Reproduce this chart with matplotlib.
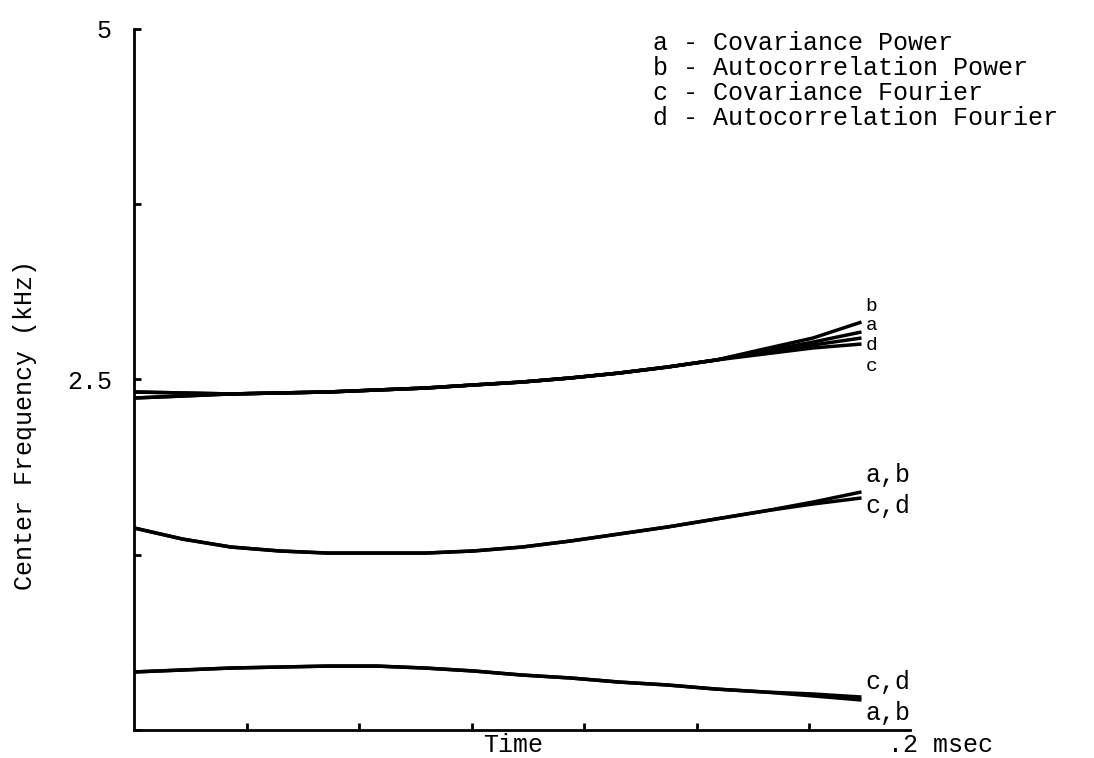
import numpy as np
import matplotlib
matplotlib.use("Agg")
import matplotlib.pyplot as plt

plt.rcParams['font.family'] = ['Liberation Mono', 'DejaVu Sans Mono']

# time in msec
t = [0.0, 0.0125, 0.025, 0.0375, 0.05, 0.0625, 0.075, 0.0875, 0.1,
     0.1125, 0.125, 0.1375, 0.15, 0.1625, 0.175, 0.1875]

# upper group (kHz)
up_a = [2.411, 2.404, 2.397, 2.404, 2.411, 2.425, 2.439, 2.461, 2.482,
        2.511, 2.546, 2.589, 2.639, 2.703, 2.767, 2.839]
up_b = [2.411, 2.404, 2.397, 2.404, 2.411, 2.425, 2.439, 2.461, 2.482,
        2.511, 2.546, 2.589, 2.639, 2.718, 2.796, 2.910]
up_c = [2.368, 2.382, 2.397, 2.404, 2.411, 2.425, 2.439, 2.461, 2.482,
        2.511, 2.546, 2.589, 2.639, 2.682, 2.725, 2.753]
up_d = [2.368, 2.382, 2.397, 2.404, 2.411, 2.425, 2.439, 2.461, 2.482,
        2.511, 2.546, 2.589, 2.639, 2.696, 2.746, 2.796]

# middle group
mid_ab = [1.441, 1.362, 1.305, 1.277, 1.262, 1.262, 1.262, 1.277, 1.305,
          1.348, 1.398, 1.448, 1.505, 1.562, 1.626, 1.698]
mid_cd = [1.441, 1.362, 1.305, 1.277, 1.262, 1.262, 1.262, 1.277, 1.305,
          1.348, 1.398, 1.448, 1.505, 1.562, 1.612, 1.655]

# lower group
low_ab = [0.414, 0.428, 0.442, 0.449, 0.456, 0.456, 0.442, 0.421, 0.392,
          0.371, 0.342, 0.321, 0.292, 0.271, 0.243, 0.214]
low_cd = [0.414, 0.428, 0.442, 0.449, 0.456, 0.456, 0.442, 0.421, 0.392,
          0.371, 0.342, 0.321, 0.292, 0.271, 0.257, 0.235]

yticks = [0, 1.25, 2.5, 3.75, 5]
ytick_labels = ['', '', '2.5', '', '5']
xticks = [0.029, 0.058, 0.087, 0.116, 0.145, 0.174]

legend_lines = ['a - Covariance Power',
                'b - Autocorrelation Power',
                'c - Covariance Fourier',
                'd - Autocorrelation Fourier']

W, H = 1094, 758
fig = plt.figure(figsize=(W / 100, H / 100), dpi=100)
ax = fig.add_axes([134 / W, 1 - 730 / H, (910 - 134) / W, (730 - 29) / H])

fs = 18
lw = 2.5
for s in [up_a, up_b, up_c, up_d, mid_ab, mid_cd, low_ab, low_cd]:
    ax.plot(t, s, color='black', lw=lw, solid_capstyle='butt')

ax.set_xlim(0, 0.2)
ax.set_ylim(0, 5)
for side in ['top', 'right']:
    ax.spines[side].set_visible(False)
for side in ['left', 'bottom']:
    ax.spines[side].set_linewidth(2)

ax.set_yticks(yticks)
ax.set_yticklabels(ytick_labels, fontsize=fs)
ax.set_xticks(xticks)
ax.set_xticklabels([])
ax.tick_params(axis='y', direction='in', length=5, width=2, pad=16)
ax.tick_params(axis='x', direction='in', length=5, width=2)

# end labels of curves
lab_x = 0.1885
fs2 = 14
ax.text(lab_x, up_b[-1] + 0.114, 'b', fontsize=fs2, va='center')
ax.text(lab_x, up_a[-1] + 0.043, 'a', fontsize=fs2, va='center')
ax.text(lab_x, up_d[-1] - 0.057, 'd', fontsize=fs2, va='center')
ax.text(lab_x, up_c[-1] - 0.157, 'c', fontsize=fs2, va='center')
ax.text(lab_x, mid_ab[-1] + 0.12, 'a,b', fontsize=fs, va='center')
ax.text(lab_x, mid_cd[-1] - 0.06, 'c,d', fontsize=fs, va='center')
ax.text(lab_x, low_cd[-1] + 0.11, 'c,d', fontsize=fs, va='center')
ax.text(lab_x, low_ab[-1] - 0.09, 'a,b', fontsize=fs, va='center')

for i, s in enumerate(legend_lines):
    fig.text(653 / W, 1 - (43 + 25 * i) / H, s, fontsize=fs, va='center')

fig.text(513 / W, 1 - 745 / H, 'Time', fontsize=fs, ha='center', va='center')
fig.text(888 / W, 1 - 745 / H, '.2 msec', fontsize=fs, ha='left', va='center')
fig.text(25 / W, 1 - 425 / H, 'Center Frequency (kHz)', fontsize=fs,
         rotation=90, ha='center', va='center')

fig.savefig('out.png', dpi=100)
